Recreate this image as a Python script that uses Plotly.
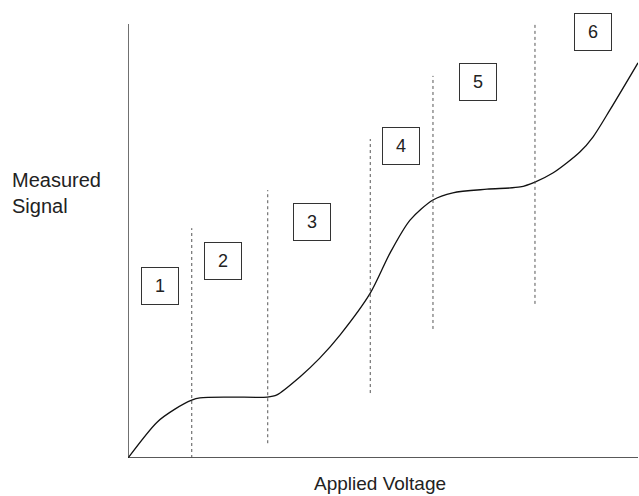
import plotly.graph_objects as go

# Curve (arbitrary units, 0-100 on both axes)
voltage = [0, 5.7, 9.2, 12.5, 14.1, 20, 27.3, 29.2, 33.7, 37.6, 41.6, 47.5, 51.4,
           55.3, 59.8, 63.7, 70.4, 76.9, 79.8, 83.3, 88.6, 91.2, 94.5, 100]
signal = [0, 8.0, 10.9, 12.9, 13.4, 13.6, 13.6, 14.1, 18.1, 22.3, 27.5, 36.8, 45.8,
          53.1, 57.6, 59.2, 60.0, 60.5, 61.6, 63.6, 68.3, 71.7, 77.7, 88.2]

# Region boundaries (dotted lines)
boundary_x = [12.5, 27.4, 47.5, 59.8, 79.8]
boundary_y0 = [0, 3.3, 14.5, 28.8, 34.4]
boundary_y1 = [51.3, 59.8, 71.2, 85.3, 96.9]

# Region labels
region_labels = ["1", "2", "3", "4", "5", "6"]
label_x = [6.2, 18.6, 36.1, 53.6, 68.6, 91.1]
label_y = [38.4, 44.0, 52.7, 69.6, 83.9, 95.2]

# Axis titles
y_title = "Measured<br>Signal"
x_title = "Applied Voltage"

FONT = "Liberation Sans, Arial, Helvetica, sans-serif"

fig = go.Figure()
fig.add_trace(go.Scatter(x=voltage, y=signal, mode="lines",
                         line=dict(color="#111111", width=1.3, shape="spline", smoothing=0.8),
                         hoverinfo="skip", showlegend=False))

shapes = []
# axes
shapes.append(dict(type="line", xref="x", yref="y", x0=0, x1=0, y0=0, y1=96.9,
                   line=dict(color="#222222", width=1.3)))
shapes.append(dict(type="line", xref="x", yref="y", x0=0, x1=100, y0=0, y1=0,
                   line=dict(color="#222222", width=1.3)))
for bx, b0, b1 in zip(boundary_x, boundary_y0, boundary_y1):
    shapes.append(dict(type="line", xref="x", yref="y", x0=bx, x1=bx, y0=b0, y1=b1,
                       line=dict(color="#555555", width=1, dash="dot")))

annotations = []
for t, lx, ly in zip(region_labels, label_x, label_y):
    annotations.append(dict(x=lx, y=ly, xref="x", yref="y", text=t, showarrow=False,
                            font=dict(family=FONT, size=18, color="#222222"),
                            width=36, height=36, borderpad=0, borderwidth=1,
                            bordercolor="#333333", bgcolor="white",
                            xanchor="center", yanchor="middle"))

annotations.append(dict(x=-0.2314, y=0.5919, xref="paper", yref="paper", text=y_title,
                        showarrow=False, align="left",
                        font=dict(family=FONT, size=20, color="#222222"),
                        xanchor="left", yanchor="middle"))
annotations.append(dict(x=0.494, y=-0.058, xref="paper", yref="paper", text=x_title,
                        showarrow=False, font=dict(family=FONT, size=19, color="#222222"),
                        xanchor="center", yanchor="middle"))

fig.update_layout(
    width=639, height=496,
    margin=dict(l=128, r=1, t=10, b=38),
    paper_bgcolor="white", plot_bgcolor="white",
    xaxis=dict(range=[0, 100], visible=False, fixedrange=True),
    yaxis=dict(range=[0, 100], visible=False, fixedrange=True),
    shapes=shapes, annotations=annotations,
    showlegend=False,
)

fig.write_html("out.html", config={"displayModeBar": False},
               post_script="document.body.style.margin='0';document.body.style.overflow='hidden';")
